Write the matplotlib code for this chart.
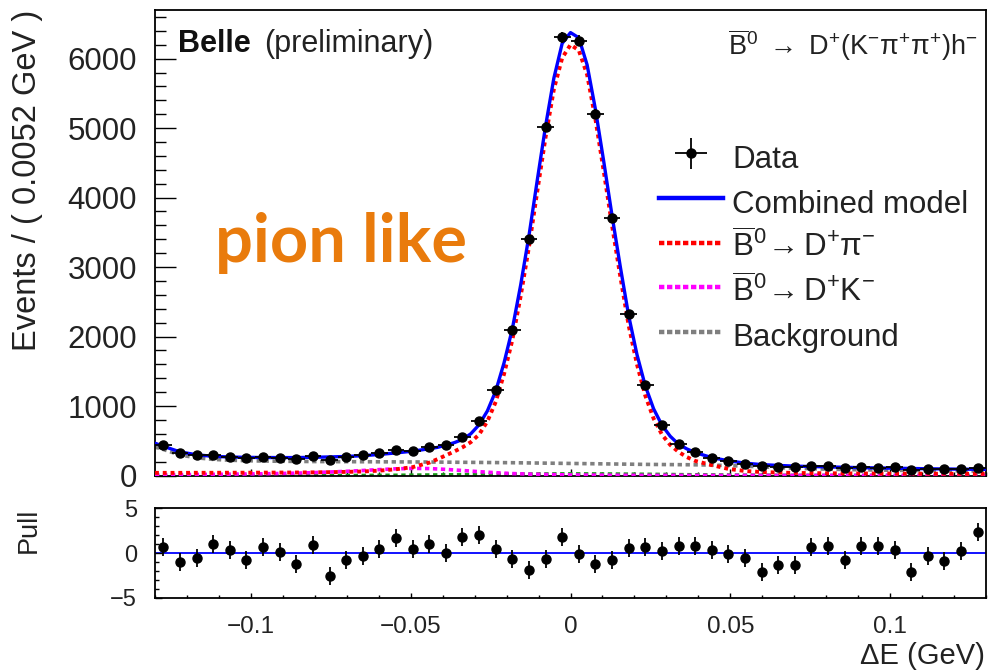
import numpy as np
import matplotlib
matplotlib.use('Agg')
import matplotlib.pyplot as plt
from matplotlib.ticker import MultipleLocator
from matplotlib.lines import Line2D

plt.rcParams['font.family'] = ['Liberation Sans', 'DejaVu Sans']
plt.rcParams['mathtext.fontset'] = 'custom'
plt.rcParams['mathtext.rm'] = 'Liberation Sans'
plt.rcParams['mathtext.it'] = 'Liberation Sans:italic'
plt.rcParams['mathtext.bf'] = 'Liberation Sans:bold'

# ---------------- data ----------------
bin_width = 0.0052
x_range = (-0.13, 0.13)
delta_e = np.round(-0.1274 + bin_width * np.arange(50), 4)

events = [435, 325, 288, 292, 273, 250, 270, 258, 238, 282,
          228, 272, 288, 330, 365, 356, 405, 438, 555, 786,
          1230, 2094, 3399, 5010, 6310, 6256, 5207, 3701, 2320, 1302,
          722, 460, 343, 256, 209, 165, 137, 127, 118, 137,
          137, 103, 118, 113, 118, 79, 94, 89, 94, 113]

pull = [0.67, -1.0, -0.56, 1.04, 0.37, -0.75, 0.67, 0.07, -1.2, 0.93,
        -2.54, -0.75, -0.38, 0.45, 1.68, 0.45, 1.04, 0.0, 1.75, 2.05,
        0.45, -0.67, -1.94, -0.64, 1.79, -0.11, -1.2, -0.82, 0.56, 0.67,
        0.19, 0.75, 0.75, 0.37, -0.11, -0.56, -2.13, -1.3, -1.38, 0.67,
        0.75, -0.75, 0.75, 0.75, 0.37, -2.13, -0.3, -0.94, 0.26, 2.35]

# model curves: sample points
model_x = np.round(np.concatenate([[x_range[0]], delta_e[:16],
                                   -0.0442 + 0.0026 * np.arange(33),
                                   delta_e[33:], [x_range[1]]]), 4)
combined = [465,
            421, 340, 298, 276, 266, 261, 259, 258, 258, 262, 267, 274, 285, 303, 325, 350,
            385, 405, 437, 472, 518, 600, 730, 930, 1215, 1620, 2110, 2740, 3450, 4250, 5030,
            5720, 6220, 6375, 6300, 5910, 5270, 4520, 3740, 3000, 2300, 1740, 1290, 960, 725,
            565, 450, 383, 330,
            258, 212, 178, 157, 145, 135, 129, 124, 118, 113, 109, 105, 101, 97, 94, 91, 89,
            88]
dpi_comp = [38,
            38, 38, 39, 39, 40, 40, 41, 42, 43, 45, 48, 52, 58, 70, 90, 120,
            185, 235, 290, 345, 405, 480, 590, 780, 1060, 1460, 1950, 2580, 3290, 4090, 4870,
            5560, 6010, 6200, 6120, 5770, 5130, 4380, 3600, 2860, 2160, 1600, 1150, 820, 590,
            440, 340, 265, 210,
            150, 95, 65, 50, 42, 37, 34, 32, 30, 29, 28, 27, 26, 26, 25, 25, 24,
            24]

comp_x = np.concatenate([[x_range[0]], delta_e, [x_range[1]]])
background = [415,
              375, 295, 255, 232, 220, 213, 208, 205, 203, 201,
              200, 199, 198, 197, 196, 195, 194, 192, 190, 188,
              186, 184, 181, 178, 175, 172, 169, 166, 163, 160,
              158, 156, 154, 150, 143, 134, 124, 114, 105, 97,
              91, 86, 82, 78, 75, 72, 70, 68, 66, 64,
              63]
dk_comp = [11,
           12, 13, 15, 17, 19, 22, 25, 29, 34, 41,
           50, 60, 72, 85, 96, 102, 100, 88, 72, 55,
           40, 28, 20, 14, 10, 7, 5, 4, 3, 2,
           2, 2, 1, 1, 1, 1, 1, 1, 1, 1,
           1, 1, 1, 1, 1, 1, 1, 1, 1, 1,
           1]
other_comp = [0,
              0, 0, 0, 0, 0, 0, 0, 0, 0, 0,
              0, 0, 0, 2, 3, 5, 7, 9, 12, 14,
              17, 19, 21, 22, 23, 23, 22, 21, 19, 17,
              15, 12, 10, 8, 6, 4, 3, 2, 1, 1,
              1, 1, 1, 1, 1, 1, 1, 1, 1, 1,
              1]

# ---------------- figure ----------------
W, H = 989, 671
fig = plt.figure(figsize=(W / 100, H / 100), dpi=100)

def fx(px):
    return px / W

def fy(py):
    return 1 - py / H

ax = fig.add_axes([fx(155), fy(475.5), fx(986) - fx(155), fy(10) - fy(475.5)])
axp = fig.add_axes([fx(155), fy(597.7), fx(986) - fx(155), fy(508.3) - fy(597.7)])

col_bkg = '#7f7f7f'
ax.plot(comp_x, background, color=col_bkg, lw=2.6, dashes=(1.2, 1.0), zorder=2)
ax.plot(comp_x, other_comp, color='#1a9a1a', lw=2.6, dashes=(1.2, 1.0), zorder=2)
ax.plot(comp_x, dk_comp, color='#ff00ff', lw=2.6, dashes=(1.2, 1.0), zorder=3)
ax.plot(model_x, dpi_comp, color='#ff0000', lw=2.8, dashes=(1.0, 1.0), zorder=4)
ax.plot(model_x, combined, color='#0000ff', lw=2.4, zorder=5)
eb = ax.errorbar(delta_e, events, yerr=np.sqrt(events), xerr=bin_width / 2,
                 fmt='o', color='black', ms=6.5, elinewidth=1.3, capsize=0, zorder=6)

ax.set_xlim(*x_range)
ax.set_ylim(0, 6700)
ax.xaxis.set_major_locator(MultipleLocator(0.05))
ax.xaxis.set_minor_locator(MultipleLocator(0.01))
ax.yaxis.set_major_locator(MultipleLocator(1000))
ax.yaxis.set_minor_locator(MultipleLocator(200))
ax.tick_params(axis='x', which='both', direction='in', labelbottom=False, width=1.0)
ax.tick_params(axis='x', which='major', length=5)
ax.tick_params(axis='x', which='minor', length=3)
ax.tick_params(axis='y', which='both', direction='in', width=1.0, labelsize=22.5, pad=13,
               labelcolor='#222222')
ax.tick_params(axis='y', which='major', length=15)
ax.tick_params(axis='y', which='minor', length=8)
for s in ax.spines.values():
    s.set_linewidth(1.3)

# pull panel
axp.axhline(0, color='#0000ff', lw=1.3, zorder=1)
axp.errorbar(delta_e, pull, yerr=np.ones(len(pull)), fmt='o', color='black', ms=6.5,
             elinewidth=1.3, capsize=0, zorder=3)
axp.set_xlim(*x_range)
axp.set_ylim(-5, 5)
axp.xaxis.set_major_locator(MultipleLocator(0.05))
axp.xaxis.set_minor_locator(MultipleLocator(0.01))
axp.yaxis.set_major_locator(MultipleLocator(5))
axp.yaxis.set_minor_locator(MultipleLocator(1))
axp.tick_params(axis='x', which='both', direction='in', labelsize=17.5, pad=13, width=1.0,
                labelcolor='#222222')
axp.tick_params(axis='x', which='major', length=3.5)
axp.tick_params(axis='x', which='minor', length=2)
axp.tick_params(axis='y', which='both', direction='in', labelsize=17, pad=13, width=1.0,
                labelcolor='#222222')
axp.tick_params(axis='y', which='major', length=5)
axp.tick_params(axis='y', which='minor', length=3)
axp.set_xticks([-0.1, -0.05, 0, 0.05, 0.1])
axp.set_xticklabels(['\u22120.1', '\u22120.05', '0', '0.05', '0.1'])
for s in axp.spines.values():
    s.set_linewidth(1.3)

# texts
fig.text(fx(28), fy(10), 'Events / ( 0.0052 GeV )', rotation=90, ha='center', va='top',
         fontsize=23.5, color='#222222')
fig.text(fx(29), fy(508), 'Pull', rotation=90, ha='center', va='top', fontsize=19.5,
         color='#222222')
fig.text(fx(985), fy(656), '\u0394E (GeV)', ha='right', va='center', fontsize=21,
         color='#222222')
fig.text(fx(178), fy(52), 'Belle', ha='left', va='baseline', fontsize=22,
         fontweight='bold', color='#111111')
fig.text(fx(264), fy(52), '(preliminary)', ha='left', va='baseline', fontsize=22,
         color='#222222')
fig.text(fx(978), fy(55),
         r'$\overline{\mathrm{B}}^{0}$ $\rightarrow$ D$^{+}$(K$^{-}\mathrm{\pi}^{+}\mathrm{\pi}^{+}$)h$^{-}$',
         ha='right', va='baseline', fontsize=19.5, color='#222222')
fig.text(fx(215), fy(262), 'pion like', ha='left', va='baseline', fontsize=48,
         fontweight='bold', family=['Lato', 'DejaVu Sans'], color='#E97B0C')

# legend
handles = [eb,
           Line2D([], [], color='#0000ff', lw=3.2),
           Line2D([], [], color='#ff0000', lw=3.2, dashes=(1.2, 0.6)),
           Line2D([], [], color='#ff00ff', lw=3.2, dashes=(1.2, 0.6)),
           Line2D([], [], color=col_bkg, lw=3.2, dashes=(1.2, 0.6))]
labels = ['Data', 'Combined model',
          r'$\overline{\mathrm{B}}^{0}\!\rightarrow \mathrm{D}^{+}\mathrm{\pi}^{-}$',
          r'$\overline{\mathrm{B}}^{0}\!\rightarrow \mathrm{D}^{+}\mathrm{K}^{-}$',
          'Background']
leg = fig.legend(handles, labels, loc='upper left', bbox_to_anchor=(fx(659), fy(139)),
                 frameon=False, fontsize=22.5, handlelength=2.05, handletextpad=0.3,
                 handleheight=1.45, labelspacing=0.24, borderpad=0, borderaxespad=0)
for t in leg.get_texts():
    t.set_color('#222222')

fig.savefig('out.png', dpi=100)
